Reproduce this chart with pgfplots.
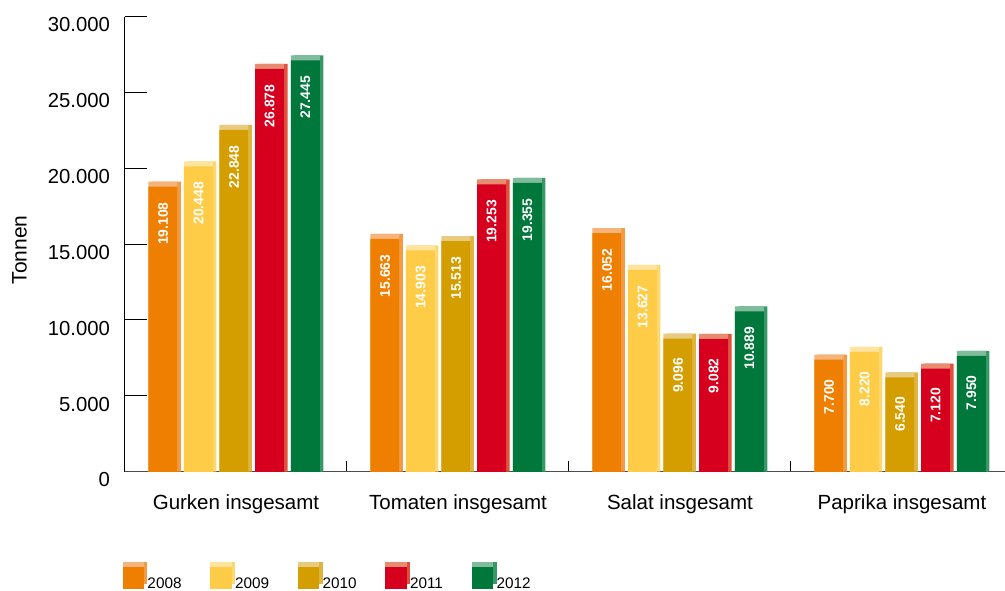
\documentclass[border=0pt]{standalone}
\usepackage{pgfplots}
\pgfplotsset{compat=1.18}
\usepackage{pgfplotstable}
\usepackage{fontspec}
\setmainfont{Liberation Sans}

\definecolor{c08}{HTML}{EE7F00}
\definecolor{c08s}{HTML}{F39A45}
\definecolor{c08t}{HTML}{F5B47C}
\definecolor{c09}{HTML}{FECC46}
\definecolor{c09s}{HTML}{FDD870}
\definecolor{c09t}{HTML}{FFE4A0}
\definecolor{c10}{HTML}{D49E00}
\definecolor{c10s}{HTML}{DFB440}
\definecolor{c10t}{HTML}{E8CA80}
\definecolor{c11}{HTML}{D6001E}
\definecolor{c11s}{HTML}{E0503A}
\definecolor{c11t}{HTML}{E88C70}
\definecolor{c12}{HTML}{00773B}
\definecolor{c12s}{HTML}{3A9868}
\definecolor{c12t}{HTML}{80BC9A}

\pgfplotstableread{
x v2008 v2009 v2010 v2011 v2012
0 19108 20448 22848 26878 27445
1 15663 14903 15513 19253 19355
2 16052 13627 9096 9082 10889
3 7700 8220 6540 7120 7950
}\data

\pgfplotsset{
  /pgf/number format/.cd, fixed, precision=0, 1000 sep={.}, assume math mode=true,
  /pgfplots/.cd,
  bar3d/.style n args={3}{draw=none, fill=#2,
    postaction={fill=#3, transform canvas={xshift=-3.5pt}},
    postaction={fill=#1, transform canvas={xshift=-3.5pt,yshift=-5pt}},
    legend image code/.code={\path[##1] (3.5pt,5pt) rectangle (21.2pt,22pt); \path (0pt,0pt) rectangle (21.2pt,22pt);}},
}

\begin{document}
\begin{tikzpicture}
\useasboundingbox (-125pt,-118.5pt) rectangle (880pt,471.5pt);
\begin{axis}[
  scale only axis, width=880pt, height=455pt,
  xmin=-0.5, xmax=3.464, ymin=0, ymax=30000,
  ybar, bar width=29pt,
  axis x line*=bottom, axis y line*=left,
  axis line style={-},
  x axis line style={draw=black!70, line width=1.3pt},
  y axis line style={draw=black, line width=1pt},
  tick align=inside,
  scaled y ticks=false,
  ytick={0,5000,10000,15000,20000,25000,30000},
  ytick style={/pgfplots/major tick length=22pt, line width=1pt, black},
  yticklabel style={font=\fontsize{20.3}{24}\selectfont, xshift=-11.5pt, yshift=-8.5pt},
  xtick={0.5,1.5,2.5}, xticklabels={},
  xtick style={/pgfplots/major tick length=11pt, line width=1pt, black},
  extra x ticks={0,1,2,3},
  extra x tick labels={Gurken insgesamt, Tomaten insgesamt, Salat insgesamt, Paprika insgesamt},
  extra x tick style={/pgfplots/major tick length=0pt},
  xticklabel style={font=\fontsize{20.5}{24}\selectfont, yshift=-20pt},
  minor tick num=0,
  ylabel={Tonnen},
  ylabel style={at={(axis description cs:-0.1199,0.487)}, anchor=center, font=\fontsize{21}{25}\selectfont},
  nodes near coords,
  every node near coord/.append style={font=\bfseries\fontsize{13.9}{16}\selectfont, text=white, fill=none, draw=none, xshift=-3.5pt, yshift=-42pt, rotate=90, anchor=center},
  legend style={at={(axis description cs:0,0)}, anchor=north west, xshift=1.3pt, yshift=-90pt,
    draw=none, fill=none, inner sep=0pt, outer sep=0pt, legend columns=5, column sep=0pt,
    font=\fontsize{15.3}{18}\selectfont, nodes={inner sep=0pt},
    /tikz/every even column/.append style={column sep=32.3pt}},
]
\addplot[bar3d={c08}{c08s}{c08t}, bar shift=-69.5pt] table[x=x,y=v2008]{\data};
\addplot[bar3d={c09}{c09s}{c09t}, bar shift=-34pt] table[x=x,y=v2009]{\data};
\addplot[bar3d={c10}{c10s}{c10t}, bar shift=1.5pt] table[x=x,y=v2010]{\data};
\addplot[bar3d={c11}{c11s}{c11t}, bar shift=37.2pt] table[x=x,y=v2011]{\data};
\addplot[bar3d={c12}{c12s}{c12t}, bar shift=72.8pt] table[x=x,y=v2012]{\data};
\legend{2008,2009,2010,2011,2012}
\end{axis}
\end{tikzpicture}
\end{document}
